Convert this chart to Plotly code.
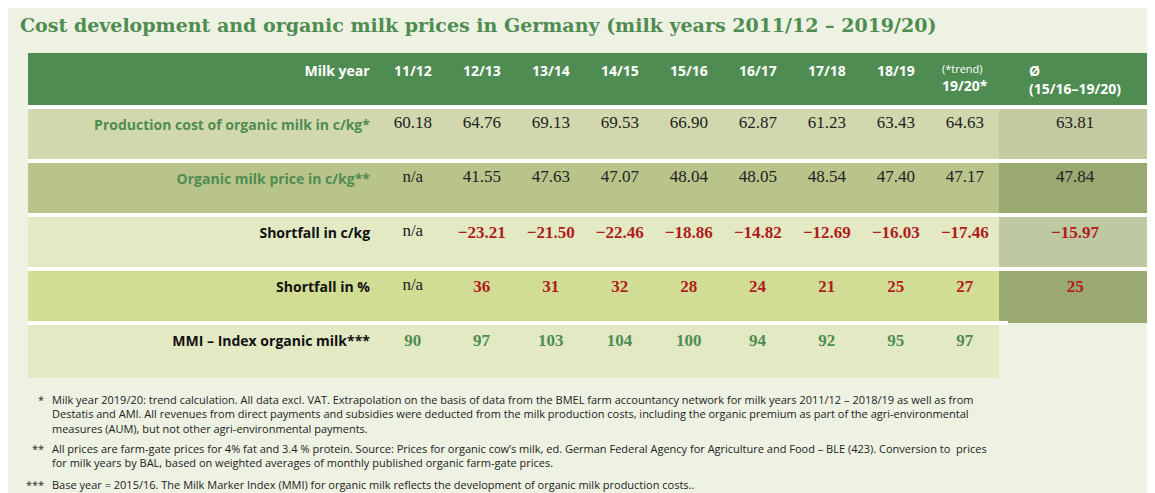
import plotly.graph_objects as go

# data
years = ["11/12", "12/13", "13/14", "14/15", "15/16", "16/17", "17/18", "18/19", "19/20*"]
row_labels = ["Production cost of organic milk in c/kg*", "Organic milk price in c/kg**",
              "Shortfall in c/kg", "Shortfall in %", "MMI – Index organic milk***"]
cost = ["60.18", "64.76", "69.13", "69.53", "66.90", "62.87", "61.23", "63.43", "64.63"]
price = ["n/a", "41.55", "47.63", "47.07", "48.04", "48.05", "48.54", "47.40", "47.17"]
shortfall = ["n/a", "−23.21", "−21.50", "−22.46", "−18.86", "−14.82", "−12.69", "−16.03", "−17.46"]
shortfall_pct = ["n/a", "36", "31", "32", "28", "24", "21", "25", "27"]
mmi = ["90", "97", "103", "104", "100", "94", "92", "95", "97"]
avg = ["63.81", "47.84", "−15.97", "25", ""]

GREEN = "#4f8c52"
RED = "#b01c1c"
BG = "#eef2e2"
row_fill = ["#d2d8ae", "#b9c48b", "#e2e9c3", "#d1dc95", "#e2e9c3"]
avg_fill = ["#c3caa1", "#9aa871", "#bfc9a1", "#9aa871", BG]

header = ["<b>Milk year</b>"] + ["<b>%s</b>" % y for y in years[:-1]] + \
         ["<span style='font-size:11px'>(*trend)</span><br><b>19/20*</b>", "<b>Ø<br>(15/16–19/20)</b>"]

# build cell columns
rows = [cost, price, shortfall, shortfall_pct, mmi]
bold_rows = [2, 3, 4]
row_colors = ["#222", "#222", RED, RED, GREEN]
cols = [["<b>%s</b>" % l for l in row_labels]]
font_colors = [[GREEN, GREEN, "#111", "#111", "#111"]]
for j in range(len(years)):
    col = []
    for i, r in enumerate(rows):
        v = r[j]
        if i in bold_rows and v != "n/a":
            v = "<b>%s</b>" % v
        col.append(v)
    cols.append(col)
    font_colors.append([("#222" if rows[i][j] == "n/a" else row_colors[i]) for i in range(5)])
cols.append(["<b>%s</b>" % v if i in bold_rows else v for i, v in enumerate(avg)])
font_colors.append(row_colors)

fills = [row_fill] * (len(years) + 1) + [avg_fill]
aligns = ["right"] + ["center"] * (len(years) + 1)
fonts = ["Open Sans"] + ["Liberation Serif"] * (len(years) + 1)

fig = go.Figure(go.Table(
    domain=dict(x=[20 / 1155, 1143 / 1155], y=[1 - 372 / 493, 1 - 45 / 493]),
    columnwidth=[335] + [66] * 9 + [145],
    header=dict(values=header, fill_color=GREEN, align=aligns, height=54,
                font=dict(color="white", size=14, family="Open Sans"),
                line=dict(color=GREEN, width=1)),
    cells=dict(values=cols, fill_color=fills, align=aligns, height=54,
               font=dict(color=font_colors, size=[14] + [17] * 10, family=fonts),
               line=dict(color=fills, width=1)),
))

# white gaps between rows
for k in range(1, 6):
    ypx = 45 + 54 * k
    x1 = 1143 if k < 5 else 1000
    fig.add_shape(type="rect", xref="paper", yref="paper", layer="above",
                  x0=20 / 1155, x1=x1 / 1155, y0=1 - (ypx + 2) / 493, y1=1 - (ypx - 2) / 493,
                  fillcolor="white", line=dict(width=0))

fig.add_annotation(text="<b>Cost development and organic milk prices in Germany (milk years 2011/12 – 2019/20)</b>",
                   x=10 / 1155, y=1 - 4 / 493, xref="paper", yref="paper", xanchor="left", yanchor="top",
                   showarrow=False, font=dict(family="DejaVu Serif", size=19, color=GREEN))

notes = [
    ("*", "Milk year 2019/20: trend calculation. All data excl. VAT. Extrapolation on the basis of data from the BMEL farm accountancy network for milk years 2011/12 – 2018/19 as well as from<br>"
          "Destatis and AMI. All revenues from direct payments and subsidies were deducted from the milk production costs, including the organic premium as part of the agri-environmental<br>"
          "measures (AUM), but not other agri-environmental payments.", 382),
    ("**", "All prices are farm-gate prices for 4% fat and 3.4 % protein. Source: Prices for organic cow’s milk, ed. German Federal Agency for Agriculture and Food – BLE (423). Conversion to  prices<br>"
           "for milk years by BAL, based on weighted averages of monthly published organic farm-gate prices.", 431),
    ("***", "Base year = 2015/16. The Milk Marker Index (MMI) for organic milk reflects the development of organic milk production costs..", 467),
]
for mark, text, ypx in notes:
    fig.add_annotation(text=mark, x=38 / 1155, y=1 - ypx / 493, xref="paper", yref="paper",
                       xanchor="right", yanchor="top", showarrow=False, align="right",
                       font=dict(family="Open Sans", size=11, color="#222"))
    fig.add_annotation(text=text, x=42 / 1155, y=1 - ypx / 493, xref="paper", yref="paper",
                       xanchor="left", yanchor="top", showarrow=False, align="left",
                       font=dict(family="Open Sans", size=11, color="#222"))

fig.update_layout(width=1155, height=493, margin=dict(l=0, r=0, t=0, b=0),
                  paper_bgcolor=BG, plot_bgcolor=BG)
fig.write_html("out.html")
